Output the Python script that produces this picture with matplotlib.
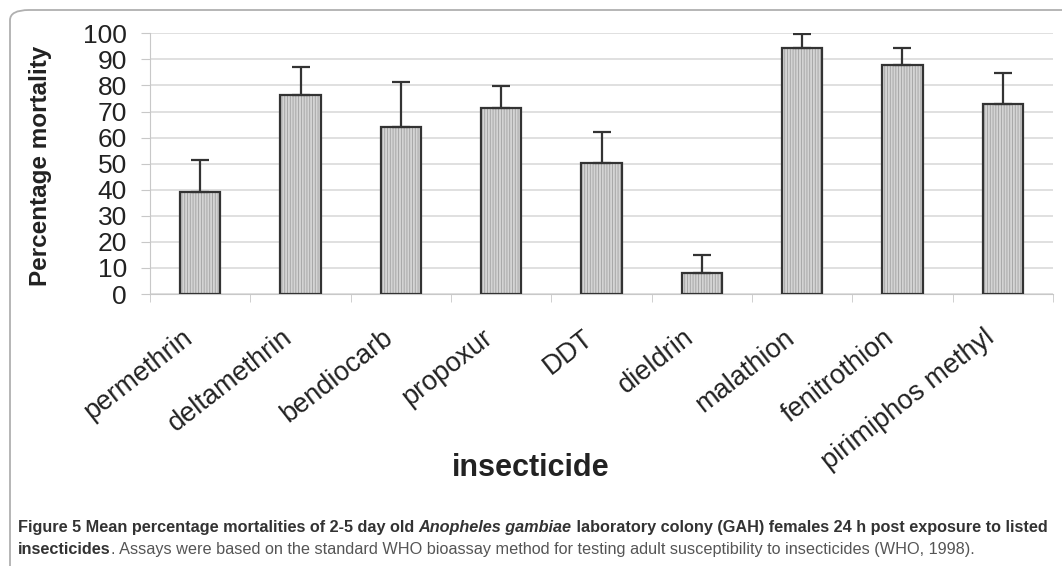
import numpy as np
import matplotlib
matplotlib.use('Agg')
import matplotlib.pyplot as plt
from matplotlib.patches import FancyBboxPatch
from matplotlib.transforms import ScaledTranslation

# Mean % mortality per insecticide, with upper error
insecticides = ['permethrin', 'deltamethrin', 'bendiocarb', 'propoxur', 'DDT',
                'dieldrin', 'malathion', 'fenitrothion', 'pirimiphos methyl']
mortality = [39.1, 76.3, 64.1, 71.3, 50.4, 8.2, 94.2, 87.7, 72.8]
error_up = [12.3, 10.7, 17.4, 8.6, 11.7, 6.8, 5.7, 6.5, 11.8]
y_ticks = [0, 10, 20, 30, 40, 50, 60, 70, 80, 90, 100]

plt.rcParams['font.family'] = ['Liberation Sans', 'DejaVu Sans']
plt.rcParams['hatch.linewidth'] = 0.6

W, H = 1062, 566
fig = plt.figure(figsize=(W / 100, H / 100), dpi=100)

# frame round the chart (left and top edge, rounded corner)
frame = FancyBboxPatch((10 / W, -0.2), 1.2, 1.2 - 10 / H,
                       boxstyle='round,pad=0,rounding_size=0.018',
                       transform=fig.transFigure, fill=False,
                       edgecolor='#b0b0b0', linewidth=1.3, clip_on=False)
fig.patches.append(frame)

ax = fig.add_axes([150 / W, 1 - 294 / H, 903 / W, 260.7 / H])
x = np.arange(len(insecticides))

ax.bar(x, mortality, width=0.4, color='#d4d4d4', edgecolor='#a0a0a0',
       linewidth=0, hatch='||||||', zorder=3)
ax.bar(x, mortality, width=0.4, fill=False, edgecolor='#333333',
       linewidth=1.6, zorder=4)
ax.errorbar(x, mortality, yerr=[np.zeros(len(x)), error_up], fmt='none',
            ecolor='#333333', elinewidth=1.6, capsize=6.5, capthick=1.6,
            zorder=5)

ax.set_ylim(0, 100)
ax.set_xlim(-0.5, len(x) - 0.5)
ax.set_yticks(y_ticks)
ax.set_yticklabels([str(v) for v in y_ticks], fontsize=19, color='#222222')
ax.yaxis.grid(True, color='#dadada', linewidth=1.2, zorder=0)
ax.set_axisbelow(True)
ax.tick_params(axis='y', length=6.5, color='#c8c8c8', pad=10)

ax.set_xticks(x)
ax.set_xticklabels(insecticides, rotation=38, ha='right', va='top',
                   rotation_mode='anchor', fontsize=19.5, color='#222222')
ax.set_xticks(np.arange(-0.5, len(x)), minor=True)
ax.tick_params(axis='x', which='major', length=0, pad=22)
ax.tick_params(axis='x', which='minor', length=6, color='#c8c8c8')
shift = ScaledTranslation(-0.19, 0, fig.dpi_scale_trans)
for lab in ax.get_xticklabels():
    lab.set_transform(lab.get_transform() + shift)

for side in ['top', 'right']:
    ax.spines[side].set_visible(False)
ax.spines['left'].set_color('#c8c8c8')
ax.spines['bottom'].set_color('#c8c8c8')

ax.set_ylabel('Percentage mortality', fontsize=17.5, fontweight='bold',
              color='#222222')
ax.yaxis.set_label_coords((52 - 150) / 903, 0.49)

fig.text(531 / W, 1 - 468 / H, 'insecticide', fontsize=22,
         fontweight='bold', ha='center', va='center', color='#222222')

# caption, built piece by piece
cap_font = ['Liberation Sans', 'DejaVu Sans']
line1 = [('Figure 5 Mean percentage mortalities of 2-5 day old ', 'bold', 'normal'),
         ('Anopheles gambiae', 'bold', 'italic'),
         (' laboratory colony (GAH) females 24 h post exposure to listed', 'bold', 'normal')]
line2 = [('insecticides', 'bold', 'normal'),
         ('. Assays were based on the standard WHO bioassay method for testing '
          'adult susceptibility to insecticides (WHO, 1998).', 'normal', 'normal')]

for line, ybase in [(line1, 532), (line2, 554)]:
    last = None
    for txt, weight, style in line:
        col = '#333333' if weight == 'bold' else '#555555'
        if last is None:
            last = fig.text(18 / W, 1 - ybase / H, txt, fontsize=11.7,
                            family=cap_font, fontweight=weight, style=style,
                            color=col, va='baseline', ha='left')
        else:
            last = plt.annotate(txt, xy=(1, 0), xycoords=last,
                                fontsize=11.7, family=cap_font,
                                fontweight=weight, style=style, color=col,
                                va='bottom', ha='left')

fig.savefig('out.png', dpi=100)
